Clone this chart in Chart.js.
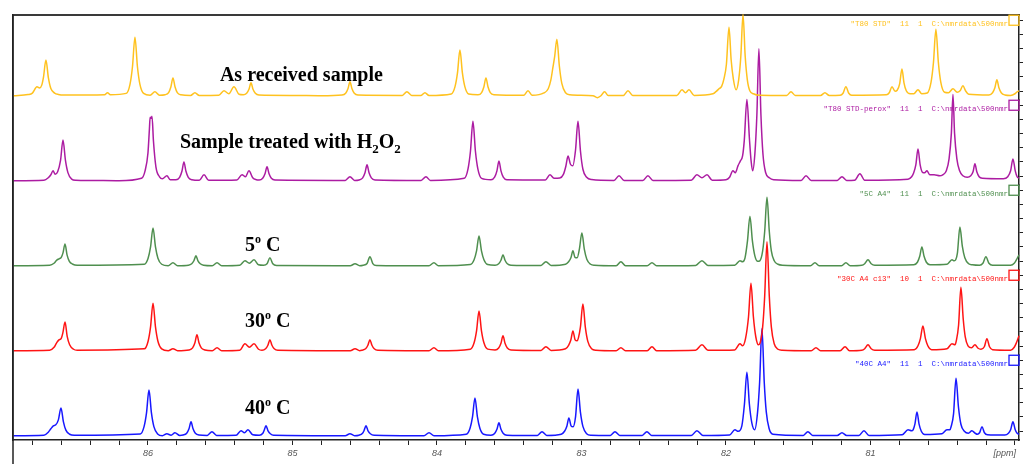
<!DOCTYPE html>
<html><head><meta charset="utf-8">
<script src="https://cdn.jsdelivr.net/npm/chart.js@4.4.1/dist/chart.umd.min.js"></script>
<style>html,body{margin:0;padding:0;background:#fff;}#wrap{width:1026px;height:464px;position:relative;}</style>
</head><body><div id="wrap"><canvas id="c"></canvas></div>
<script>
// chemical shift range (ppm), left edge and right edge of the plot
const ppmLeft = 86.934;
const ppmRight = 79.972;
// tick values on the per-spectrum intensity axes (relative units)
const intensityTicks = [4.7, 19.0, 33.3, 47.6, 61.8, 76.1];

// spectra: [ppm, relative intensity]
const asReceived = [
[86.93,0],[86.83,1.2],[86.80,2.6],[86.768,9],[86.75,7.8],[86.735,10.7],[86.723,18.8],[86.706,36],[86.689,18],[86.672,7.2],[86.646,2.7],[86.62,1.3],[86.58,0.7],
[86.30,1],[86.28,3],[86.26,1],
[86.15,2.4],[86.124,11.8],[86.107,29.5],[86.09,59],[86.073,29.5],[86.056,11.8],[86.03,2.4],
[85.985,0.5],[85.952,4],[85.92,0.5],
[85.882,1],[85.857,3.2],[85.841,9],[85.827,18],[85.813,9],[85.797,3.2],[85.772,1],
[85.705,0.3],[85.675,3],[85.645,0.3],
[85.51,0.5],[85.474,5],[85.44,2],[85.405,9],[85.37,1.5],
[85.34,1],[85.317,2.5],[85.301,6.5],[85.287,13],[85.273,6.5],[85.257,2.5],[85.232,0.7],
[85.0,0.3],[84.8,0],
[84.657,0.7],[84.632,2.5],[84.616,7],[84.602,14],[84.588,7],[84.572,2.5],[84.547,0.7],
[84.24,0.3],[84.208,4],[84.175,0.3],[84.11,0.3],[84.083,3],[84.055,0.3],
[83.901,1.8],[83.875,9.2],[83.858,23],[83.841,46],[83.824,23],[83.807,9.2],[83.781,1.8],
[83.716,1],[83.691,3.2],[83.675,9],[83.661,18],[83.647,9],[83.631,3.2],[83.606,1],
[83.40,0.4],[83.37,5],[83.34,0.4],
[83.26,2.8],[83.23,7],[83.212,15.7],[83.197,29],[83.185,40],[83.17,57],[83.153,30],[83.136,12.4],[83.11,3],[83.08,1],
[82.92,0],[82.89,-2],[82.865,0],[82.84,4],[82.815,0.3],
[82.71,0.3],[82.678,5],[82.645,0.3],
[82.34,0.3],[82.304,6],[82.28,3],[82.256,6],[82.22,0.3],
[82.09,2],[82.065,4.7],[82.048,7],[82.03,9.4],[82.014,17],[81.997,31.5],[81.979,69],[81.964,36],[81.949,17],[81.93,6],
[81.912,16],[81.897,40],[81.882,82],[81.867,40],[81.852,16],[81.835,5],[81.81,2],[81.77,0.5],
[81.58,0.3],[81.55,4],[81.52,0.3],
[81.345,0.3],[81.315,3],[81.285,0.3],
[81.21,0.5],[81.19,2.5],[81.17,9],[81.15,2.5],[81.13,0.5],
[80.89,1],[80.87,3],[80.851,9],[80.83,4.5],[80.815,5.5],[80.798,12],[80.782,27],[80.768,13],[80.752,5],[80.725,2],
[80.70,2],[80.671,6],[80.645,2],
[80.607,2.7],[80.581,13.4],[80.564,33.5],[80.547,67],[80.53,33.5],[80.513,13.4],[80.487,3.5],
[80.46,3],[80.429,7],[80.40,3.5],[80.38,5],[80.36,10],[80.342,5],[80.32,1.5],
[80.18,0.8],[80.155,3],[80.139,8],[80.125,16],[80.111,8],[80.095,3],[80.07,0.8],
[80.03,0.3],[80.0,2],[79.985,4],[79.972,5]
];
const h2o2Treated = [
[86.93,0],[86.72,0.5],[86.69,3],[86.672,6],[86.657,10],[86.642,6.5],[86.625,9],[86.605,20.5],[86.588,41],[86.571,20.5],[86.554,8.2],[86.528,1.6],[86.50,0.5],
[86.40,0.3],[86.20,0],
[86.045,2.5],[86.02,10],[86.0,28],[85.99,52],[85.985,64],[85.978,63],[85.972,65],[85.962,40],[85.945,14],[85.92,4],[85.90,2],
[85.869,5],[85.845,1],
[85.806,1],[85.781,3.4],[85.765,9.5],[85.751,19],[85.737,9.5],[85.721,3.4],[85.696,1],
[85.645,0.4],[85.612,6],[85.58,0.4],
[85.385,0.8],[85.349,6],[85.325,4],[85.301,10],[85.275,3],[85.25,1],
[85.231,0.7],[85.206,2.5],[85.19,7],[85.176,14],[85.162,7],[85.146,2.5],[85.121,0.7],
[84.635,0.3],[84.602,4],[84.57,0.3],
[84.539,0.8],[84.514,2.9],[84.498,8],[84.484,16],[84.47,8],[84.454,2.9],[84.429,0.8],
[84.11,0.3],[84.076,4],[84.045,0.3],
[83.811,2.4],[83.785,12],[83.768,30],[83.751,60],[83.734,30],[83.717,12],[83.691,2.4],
[83.626,1],[83.601,3.6],[83.585,10],[83.571,20],[83.557,10],[83.541,3.6],[83.516,1],
[83.25,0.8],[83.218,6],[83.19,2.5],
[83.15,2.8],[83.125,6.4],[83.108,14.6],[83.093,25],[83.076,16.6],[83.06,15],[83.041,31],[83.024,60],[83.007,30],[82.99,11.6],[82.964,3.5],[82.93,1.2],
[82.775,0.3],[82.74,5],[82.705,0.3],
[82.575,0.3],[82.54,5],[82.505,0.3],
[82.24,0.5],[82.201,6],[82.166,3],[82.131,6],[82.095,0.5],
[82.0,1],[81.975,3.5],[81.952,10],[81.935,8],[81.917,15],[81.90,20],[81.885,25],[81.873,41],[81.855,82],[81.837,41],[81.826,20],[81.815,10],
[81.80,27],[81.786,66.5],[81.772,133],[81.758,66.5],[81.744,27],[81.725,8],[81.70,3],[81.67,1],
[81.48,0.3],[81.446,5],[81.41,0.3],
[81.23,0.3],[81.197,4],[81.165,0.3],
[81.11,0.5],[81.073,7],[81.04,0.5],
[80.74,1.5],[80.715,4],[80.702,7.5],[80.686,16],[80.671,32],[80.656,16],[80.64,8.5],[80.625,8],[80.609,10],[80.59,6],
[80.56,6],[80.52,5],
[80.50,6],[80.475,10],[80.456,22],[80.44,48],[80.429,87],[80.418,48],[80.402,22],[80.383,10],[80.36,5],
[80.33,3.5],[80.306,5],[80.29,9],[80.277,17],[80.264,9],[80.248,4],[80.225,2.5],
[80.08,2],[80.05,4],[80.03,10],[80.014,22],[79.998,10],[79.985,4],[79.972,2.5]
];
const at5C = [
[86.93,0],[86.68,0.5],[86.65,2.5],[86.632,5.5],[86.616,7],[86.60,8.5],[86.588,13],[86.574,22],[86.56,11],[86.544,4.5],[86.52,1.5],[86.49,0.5],
[86.025,1.5],[85.999,7.6],[85.982,19],[85.965,38],[85.948,19],[85.931,7.6],[85.905,1.5],
[85.86,0],[85.827,3],[85.795,0],
[85.72,0.5],[85.697,2],[85.682,5],[85.668,10],[85.654,5],[85.638,2],[85.615,0.5],
[85.555,0],[85.522,3],[85.49,0],
[85.365,0.5],[85.329,5],[85.298,2.5],[85.266,6],[85.235,1],
[85.20,0.5],[85.176,2],[85.156,8],[85.136,2],[85.11,0.3],
[84.60,0],[84.567,2],[84.535,0],
[84.51,0.5],[84.484,2.2],[84.464,9],[84.444,2.2],[84.42,0.3],
[84.055,0],[84.021,3],[83.99,0],
[83.769,1.2],[83.743,6],[83.726,15],[83.709,30],[83.692,15],[83.675,6],[83.649,1.2],
[83.598,0.6],[83.573,2],[83.557,5.5],[83.543,11],[83.529,5.5],[83.513,2],[83.488,0.6],
[83.28,0.3],[83.246,4],[83.21,0.3],
[83.11,1.5],[83.089,4],[83.073,8],[83.059,15],[83.045,8.5],[83.03,8],[83.014,17],[82.997,33],[82.98,16.5],[82.963,6.6],[82.937,1.5],[82.91,0.5],
[82.76,0],[82.727,4],[82.695,0],
[82.545,0],[82.512,3],[82.48,0],
[82.21,0.3],[82.166,5],[82.125,0.3],
[81.94,0.5],[81.903,5],[81.885,4],[81.868,8],[81.851,25],[81.834,50],[81.817,25],[81.80,10],[81.78,4.5],
[81.766,5],[81.746,15],[81.732,34.5],[81.716,69],[81.70,34.5],[81.686,15],[81.666,5],[81.64,1.5],[81.61,0.5],
[81.415,0],[81.384,3],[81.355,0],
[81.20,0],[81.17,3],[81.14,0],
[81.06,0.5],[81.04,2],[81.017,6],[80.995,2],[80.97,0.5],
[80.70,1],[80.675,3.5],[80.659,9.5],[80.644,19],[80.629,9.5],[80.613,3.5],[80.588,1],
[80.47,1.5],[80.436,6],[80.42,5],[80.41,6],[80.398,13],[80.381,39],[80.364,19.5],[80.347,8],[80.32,2],[80.295,1],
[80.245,0.5],[80.222,2.5],[80.201,9],[80.18,2.5],[80.155,0.5],
[80.03,0.5],[80.005,2.5],[79.99,6],[79.972,11]
];
const at30C = [
[86.93,0],[86.68,0.5],[86.65,3.5],[86.632,8],[86.616,11],[86.60,12.5],[86.589,18],[86.574,29],[86.559,14.5],[86.542,6],[86.515,1.5],[86.49,0.5],
[86.025,1.9],[85.999,9.6],[85.982,24],[85.965,48],[85.948,24],[85.931,9.6],[85.905,1.9],
[85.86,0],[85.827,2],[85.795,0],
[85.716,0.8],[85.691,2.9],[85.675,8],[85.661,16],[85.647,8],[85.631,2.9],[85.606,0.8],
[85.555,0],[85.522,3],[85.49,0],
[85.365,0.5],[85.329,7],[85.298,3.5],[85.266,7],[85.235,1.5],
[85.211,0.5],[85.186,2],[85.17,5.5],[85.156,11],[85.142,5.5],[85.126,2],[85.101,0.5],
[84.60,0],[84.567,2],[84.535,0],
[84.519,0.5],[84.494,2],[84.478,5.5],[84.464,11],[84.45,5.5],[84.434,2],[84.409,0.5],
[84.055,0],[84.021,3],[83.99,0],
[83.769,1.6],[83.743,8],[83.726,20],[83.709,40],[83.692,20],[83.675,8],[83.649,1.6],
[83.598,0.8],[83.573,2.7],[83.557,7.5],[83.543,15],[83.529,7.5],[83.513,2.7],[83.488,0.8],
[83.28,0.3],[83.246,4],[83.21,0.3],
[83.11,2],[83.089,5.5],[83.073,11],[83.059,20],[83.044,11],[83.03,10],[83.021,13],[83.007,24],[82.99,47],[82.973,23.5],[82.956,9.4],[82.93,2],[82.90,0.5],
[82.76,0],[82.727,3],[82.695,0],
[82.545,0],[82.512,4],[82.48,0],
[82.21,0.5],[82.166,6],[82.125,0.5],
[81.94,0.8],[81.903,7],[81.885,5],[81.865,12],[81.844,34],[81.827,68],[81.81,34],[81.793,13.6],[81.775,6],
[81.766,7],[81.746,24],[81.732,55],[81.716,110],[81.70,55],[81.686,24],[81.666,7],[81.64,1.5],[81.61,0.5],
[81.41,0],[81.377,3],[81.345,0],
[81.21,0],[81.176,4],[81.145,0],
[81.06,0.5],[81.04,2],[81.017,6],[80.995,2],[80.97,0.5],
[80.697,1],[80.671,5],[80.654,12.5],[80.637,25],[80.62,12.5],[80.603,5],[80.577,1],
[80.47,2],[80.436,7],[80.415,6],[80.406,10],[80.39,26],[80.374,64],[80.358,32],[80.344,14],[80.325,5],[80.30,3],
[80.277,6],[80.255,2.5],
[80.235,1.5],[80.212,4],[80.194,12],[80.176,4],[80.155,1],
[80.03,0.5],[80.005,3.5],[79.99,8],[79.972,15]
];
const at40C = [
[86.93,0],[86.72,0.5],[86.69,3.5],[86.672,7],[86.655,10],[86.638,11],[86.62,16],[86.602,28],[86.585,14],[86.568,5.6],[86.542,1.5],[86.51,0.5],
[86.053,1.8],[86.027,9.2],[86.01,23],[85.993,46],[85.976,23],[85.959,9.2],[85.933,1.8],
[85.90,0],[85.869,2],[85.84,0.5],[85.813,3],[85.78,0.3],
[85.757,0.7],[85.732,2.5],[85.716,7],[85.702,14],[85.688,7],[85.672,2.5],[85.647,0.7],
[85.59,0.3],[85.557,4],[85.525,0.3],
[85.39,0.5],[85.356,5],[85.332,3],[85.308,6],[85.275,1],
[85.23,0.5],[85.205,2.5],[85.197,5],[85.183,10],[85.169,5],[85.153,2],[85.13,0.5],
[84.635,0],[84.602,2],[84.57,0],
[84.54,0.5],[84.515,2.5],[84.505,5],[84.491,10],[84.477,5],[84.461,2],[84.435,0.5],
[84.09,0],[84.055,3],[84.02,0],
[83.797,1.5],[83.771,7.6],[83.754,19],[83.737,38],[83.72,19],[83.703,7.6],[83.677,1.5],
[83.626,0.6],[83.601,2.3],[83.585,6.5],[83.571,13],[83.557,6.5],[83.541,2.3],[83.516,0.6],
[83.305,0.3],[83.273,4],[83.24,0.3],
[83.14,1.5],[83.117,4.5],[83.101,9.5],[83.087,18],[83.072,10],[83.058,9],[83.041,19],[83.024,47],[83.007,23.5],[82.99,9.4],[82.964,2],[82.935,0.5],
[82.80,0.3],[82.768,4],[82.735,0.3],
[82.58,0.3],[82.547,4],[82.515,0.3],
[82.24,0.3],[82.201,5],[82.16,0.3],
[81.975,0.8],[81.938,6],[81.915,4.5],[81.89,10],[81.872,32],[81.855,64],[81.838,32],[81.821,13],
[81.801,6],[81.781,24],[81.767,54],[81.751,108],[81.735,54],[81.721,24],[81.701,7],[81.675,1.5],
[81.465,0.3],[81.433,4],[81.40,0.3],
[81.23,0.3],[81.197,3],[81.165,0.3],
[81.08,0.3],[81.045,5],[81.01,0.3],
[80.78,1],[80.74,6],[80.715,5],[80.705,6],[80.692,12],[80.678,24],[80.664,12],[80.648,4.5],[80.625,1.2],
[80.505,2],[80.471,6],[80.45,6],[80.442,9],[80.425,22],[80.408,58],[80.391,29],[80.374,11.6],[80.35,4.5],
[80.322,2.5],[80.298,5],[80.275,2.5],
[80.26,1.5],[80.245,3],[80.228,9],[80.211,3],[80.19,1],
[80.07,0.7],[80.045,2.5],[80.03,6],[80.014,14],[79.998,6],[79.985,2.5],[79.972,1.5]
];

const spectrumNames = [
  '"T80 STD"  11  1  C:\\nmrdata\\500nmr',
  '"T80 STD-perox"  11  1  C:\\nmrdata\\500nmr',
  '"5C A4"  11  1  C:\\nmrdata\\500nmr',
  '"30C A4 c13"  10  1  C:\\nmrdata\\500nmr',
  '"40C A4"  11  1  C:\\nmrdata\\500nmr'
];
// sample labels: text pieces, 'sub' = subscript, 'sup' = superscript
const sampleLabels = [
  [['As received sample']],
  [['Sample treated with H'], ['2', 'sub'], ['O'], ['2', 'sub']],
  [['5'], ['o', 'sup'], [' C']],
  [['30'], ['o', 'sup'], [' C']],
  [['40'], ['o', 'sup'], [' C']]
];

// ---------- presentation ----------
const seriesList = [asReceived, h2o2Treated, at5C, at30C, at40C];
const seriesColors = ['#FFC21F', '#AC1CA2', '#4F8F4F', '#FF1414', '#1818FF'];
const labelAnchors = [[85.502, 15], [85.779, 33], [85.329, 15], [85.329, 24], [85.329, 21.5]];

const datasets = seriesList.map((s, i) => ({
  data: s.map(([x, y]) => ({x, y})),
  borderColor: seriesColors[i],
  borderWidth: 1.5,
  borderJoinStyle: 'round',
  pointRadius: 0,
  cubicInterpolationMode: 'monotone',
  fill: false,
  clip: false,
  xAxisID: 'x',
  yAxisID: 'y' + i
}));

const scales = {
  x: {
    type: 'linear', position: 'bottom', reverse: true, min: ppmRight, max: ppmLeft,
    ticks: {
      stepSize: 0.2, includeBounds: false, autoSkip: false, maxRotation: 0, minRotation: 0, padding: 3,
      color: '#555', font: {family: '"Liberation Sans", Arial, sans-serif', size: 9, style: 'italic'},
      callback: v => (Math.abs(v - Math.round(v)) < 1e-6 && Math.round(v) >= 81) ? String(Math.round(v)) : ''
    },
    grid: {display: true, drawOnChartArea: false, drawTicks: true, tickLength: 5, color: '#222', lineWidth: 1},
    border: {display: true, color: '#222', width: 1.5}
  },
  xTop: {
    type: 'linear', position: 'top', reverse: true, min: ppmRight, max: ppmLeft,
    ticks: {display: false}, grid: {display: false, drawTicks: false},
    border: {display: true, color: '#3a3a3a', width: 2}
  },
  yLeft: {
    type: 'linear', position: 'left', min: 0, max: 1,
    ticks: {display: false}, grid: {display: false, drawTicks: false},
    border: {display: true, color: '#222', width: 1.5}
  }
};
for (let i = 0; i < seriesList.length; i++) {
  scales['y' + i] = {
    type: 'linear', position: 'right', stack: 'bands', stackWeight: 1,
    min: -4.3, max: 81.4,
    afterBuildTicks: s => { s.ticks = intensityTicks.map(v => ({value: v})); },
    ticks: {display: false},
    grid: {display: true, drawOnChartArea: false, drawTicks: true, tickLength: 4, color: '#222', lineWidth: 1},
    border: {display: true, color: '#222', width: 1.5}
  };
}

const decor = {
  id: 'decor',
  afterDraw(chart) {
    const ctx = chart.ctx, ca = chart.chartArea, xs = chart.scales.x;
    ctx.save();
    ctx.strokeStyle = '#222'; ctx.lineWidth = 1.5;
    ctx.beginPath(); ctx.moveTo(ca.left, ca.top); ctx.lineTo(ca.left, chart.height); ctx.stroke();
    ctx.fillStyle = '#555';
    ctx.font = 'italic 9px "Liberation Sans", Arial, sans-serif';
    ctx.textAlign = 'right'; ctx.textBaseline = 'alphabetic';
    ctx.fillText('[ppm]', xs.getPixelForValue(80) + 1, xs.top + 16);
    for (let i = 0; i < seriesList.length; i++) {
      const ys = chart.scales['y' + i];
      const cy = ys.getPixelForValue(intensityTicks[intensityTicks.length - 1]);
      ctx.strokeStyle = seriesColors[i]; ctx.lineWidth = 1.3;
      ctx.strokeRect(ca.right - 10, cy - 5, 10, 10);
      ctx.fillStyle = seriesColors[i];
      ctx.font = '7.5px "Liberation Mono", monospace';
      ctx.textAlign = 'right';
      ctx.fillText(spectrumNames[i], ca.right - 11, cy + 5.5);
    }
    ctx.fillStyle = '#000'; ctx.textAlign = 'left';
    for (let i = 0; i < sampleLabels.length; i++) {
      const ys = chart.scales['y' + i];
      let x = xs.getPixelForValue(labelAnchors[i][0]);
      const y = ys.getPixelForValue(labelAnchors[i][1]);
      for (const [t, kind] of sampleLabels[i]) {
        let dy = 0;
        if (kind === 'sub') { ctx.font = 'bold 13px "Liberation Serif", "Times New Roman", serif'; dy = 5; }
        else if (kind === 'sup') { ctx.font = 'bold 12px "Liberation Serif", "Times New Roman", serif'; dy = -8; }
        else { ctx.font = 'bold 20px "Liberation Serif", "Times New Roman", serif'; }
        ctx.fillText(t, x, y + dy);
        x += ctx.measureText(t).width;
      }
    }
    ctx.restore();
  }
};

new Chart(document.getElementById('c'), {
  type: 'line',
  data: {datasets},
  options: {
    responsive: true, maintainAspectRatio: false, animation: false, devicePixelRatio: 1,
    layout: {padding: {left: 13, right: 3, top: 15, bottom: 2.2}},
    plugins: {legend: {display: false}, tooltip: {enabled: false}},
    events: [],
    scales
  },
  plugins: [decor]
});
</script></body></html>
